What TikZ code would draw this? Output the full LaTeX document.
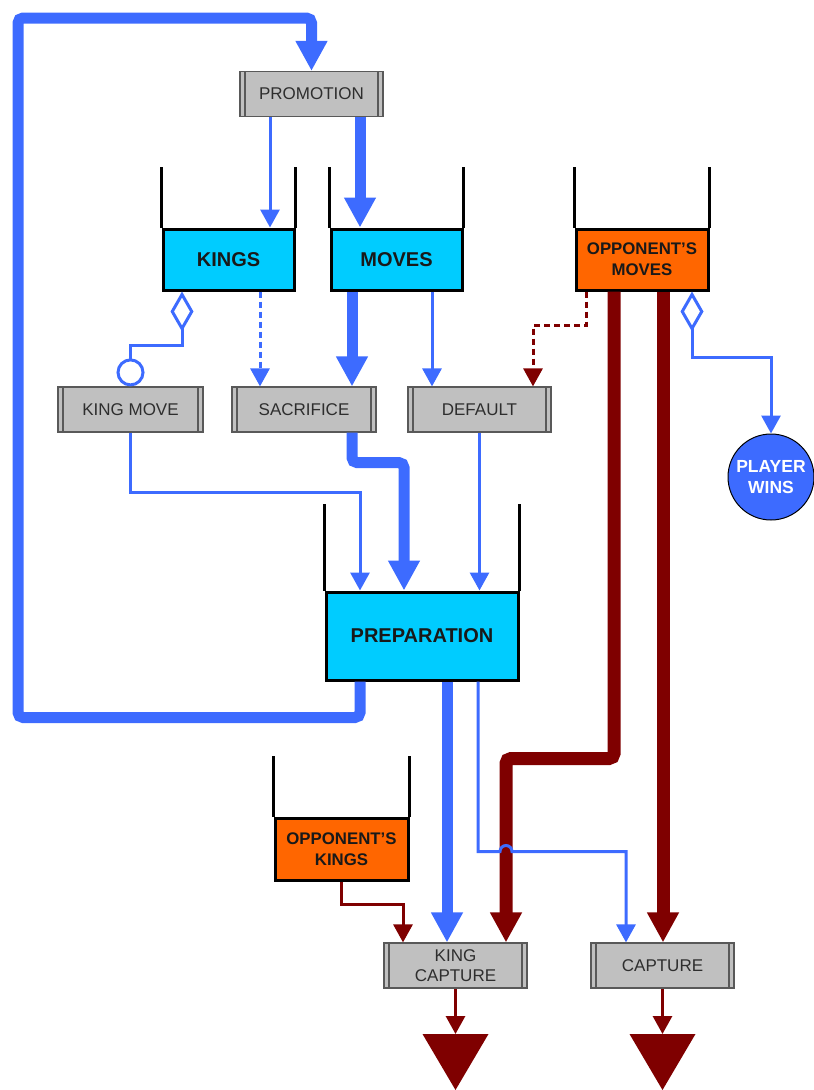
\documentclass[tikz,border=0pt]{standalone}
\usepackage{fontspec}
\setmainfont{Liberation Sans}
\usetikzlibrary{arrows.meta,calc}
\definecolor{fblue}{HTML}{3D6BFF}
\definecolor{dred}{HTML}{7F0000}
\definecolor{pcyan}{HTML}{00CCFF}
\definecolor{porange}{HTML}{FF6600}
\definecolor{pgray}{HTML}{C0C0C0}
\definecolor{ptext}{HTML}{2E2E2E}
\begin{document}
\begin{tikzpicture}[x=1pt,y=-1pt,
  poolbox/.style={draw=black,line width=3pt,minimum height=61pt,inner sep=0pt,
    font=\fontsize{20}{22}\selectfont\bfseries,align=center,text=black!90},
  cyanpool/.style={poolbox,fill=pcyan},
  orangepool/.style={poolbox,fill=porange,font=\fontsize{16.8}{21}\selectfont\bfseries},
  wall/.style={draw=black,line width=3pt},
  procbox/.style={draw=black!65,line width=1.2pt,fill=pgray,minimum width=143pt,
    minimum height=45pt,inner sep=0pt,font=\fontsize{17}{20}\selectfont,text=ptext,align=center,
    path picture={
      \draw[black!65,line width=1.2pt] ([xshift=5pt]path picture bounding box.north west) -- ([xshift=5pt]path picture bounding box.south west);
      \draw[black!65,line width=1.2pt] ([xshift=-5pt]path picture bounding box.north east) -- ([xshift=-5pt]path picture bounding box.south east);}},
  thinflow/.style={draw=fblue,line width=3pt,-{Triangle[length=18pt,width=19pt]}},
  thickflow/.style={draw=fblue,line width=11pt,rounded corners=5pt,-{Triangle[length=30pt,width=30pt]}},
  redthin/.style={draw=dred,line width=3pt,-{Triangle[length=18pt,width=19pt]}},
  redthick/.style={draw=dred,line width=13pt,rounded corners=5pt,-{Triangle[length=30pt,width=30pt]}},
  dashflow/.style={dash pattern=on 6pt off 4pt}
]
\useasboundingbox (0,0) rectangle (814,1090);

% nodes
\node[procbox] (prom) at (311.5,94) {PROMOTION};
\node[cyanpool,minimum width=131pt] (kings) at (228.5,259.5) {KINGS};
\node[cyanpool,minimum width=131pt] (moves) at (396.5,259.5) {MOVES};
\node[orangepool,minimum width=132pt] (omoves) at (642,259.5) {OPPONENT'S\\MOVES};
\node[procbox,minimum width=145pt] (kmove) at (130.5,409.5) {KING MOVE};
\node[procbox,minimum width=144pt] (sac) at (304,409.5) {SACRIFICE};
\node[procbox] (def) at (479.5,409.5) {DEFAULT};
\node[circle,draw=black,line width=1pt,fill=fblue,minimum size=86pt,inner sep=0pt,
  font=\fontsize{17.5}{21}\selectfont\bfseries,text=white,align=center] (win) at (771,477) {PLAYER\\WINS};
\node[cyanpool,minimum width=192pt,minimum height=88pt] (prep) at (422,636) {PREPARATION};
\node[orangepool,minimum width=133pt,minimum height=62pt] (okings) at (341.5,849) {OPPONENT'S\\KINGS};
\node[procbox] (kcap) at (455.5,965.5) {KING\\CAPTURE};
\node[procbox] (cap) at (662.5,965.5) {CAPTURE};
\coordinate (dr1) at (455.5,1034);
\coordinate (dr2) at (662.5,1034);
\coordinate (loopL) at (18,18);

% pool walls
\foreach \p/\h in {kings/61,moves/61,omoves/61,prep/87,okings/61}{
  \draw[wall] (\p.north west) -- ++(0,-\h);
  \draw[wall] (\p.north east) -- ++(0,-\h);
}

% drains
\fill[dred] (dr1) ++(-33,0) -- ++(66,0) -- ++(-33,56) -- cycle;
\fill[dred] (dr2) ++(-33,0) -- ++(66,0) -- ++(-33,56) -- cycle;

% big loop
\draw[thickflow] ([xshift=-62pt]prep.south) -- ++(0,36) -| (loopL) -| (prom.north);

% promotion outputs
\draw[thinflow] ([xshift=-41.5pt]prom.south) -- ([xshift=41.5pt]kings.north);
\draw[thickflow] ([xshift=48.5pt]prom.south) -- ([xshift=-36.5pt]moves.north);

% kings outputs
\draw[draw=fblue,line width=3pt,{Diamond[open,length=40pt,width=23pt]}-{Circle[open,length=28pt,width=28pt]}]
  ([xshift=-46.5pt]kings.south) -- ++(0,54) -| (kmove.north);
\draw[thinflow,dashflow] ([xshift=31.5pt]kings.south) -- ([xshift=-44pt]sac.north);

% moves outputs
\draw[thickflow] ([xshift=-44.5pt]moves.south) -- ([xshift=48pt]sac.north);
\draw[thinflow] ([xshift=35.5pt]moves.south) -- ([xshift=-47.5pt]def.north);

% opponent's moves outputs
\draw[redthin,dashflow] ([xshift=-56pt]omoves.south) -- ++(0,34) -| ([xshift=53.5pt]def.north);
\draw[draw=fblue,line width=3pt,{Diamond[open,length=40pt,width=23pt]}-{Triangle[length=18pt,width=19pt]}]
  ([xshift=50pt]omoves.south) -- ++(0,66) -| (win.north);
\draw[redthick] ([xshift=-28pt]omoves.south) -- ++(0,467) -| ([xshift=50.5pt]kcap.north);
\draw[redthick] ([xshift=21pt]omoves.south) -- ([xshift=21pt]omoves.south |- cap.north);

% into preparation
\draw[thinflow] (kmove.south) -- ++(0,60) -| ([xshift=-62pt]prep.north);
\draw[thickflow] ([xshift=48pt]sac.south) -- ++(0,30) -| ([xshift=-18pt]prep.north);
\draw[thinflow] (def.south) -- (def.south |- prep.north);

% out of preparation
\draw[thickflow] ([xshift=25pt]prep.south) -- ([xshift=25pt]prep.south |- kcap.north);
\draw[thinflow] ([xshift=56pt]prep.south) -- ++(0,170) -- ++(22,0)
  arc[start angle=180,end angle=0,radius=6pt] -| ([xshift=-36.5pt]cap.north);

% opponent's kings
\draw[redthin] (okings.south) -- ++(0,23) -| ([xshift=-52.5pt]kcap.north);

% to drains
\draw[redthin] (kcap.south) -- (dr1);
\draw[redthin] (cap.south) -- (dr2);
\end{tikzpicture}
\end{document}
